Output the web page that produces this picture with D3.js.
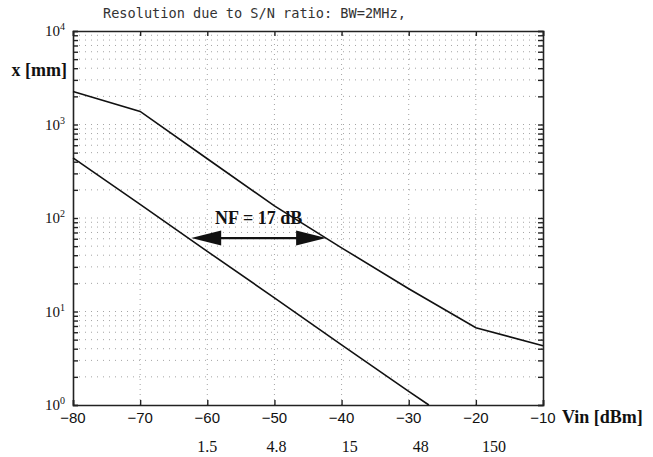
<!DOCTYPE html>
<html><head><meta charset="utf-8">
<script src="https://cdn.jsdelivr.net/npm/d3@7/dist/d3.min.js"></script>
<style>body{margin:0;background:#fff}svg{display:block}</style>
</head><body>
<script>
// ---- data ----
const vinTicks = [-80, -70, -60, -50, -40, -30, -20, -10];
const decades = [1, 10, 100, 1000, 10000];
const decadeExp = ["0", "1", "2", "3", "4"];
const upperVin = [-80, -70, -60, -50, -40, -30, -20, -10];
const upperX   = [2250, 1380, 430, 135, 48, 17.5, 6.7, 4.3];
const lowerVin = [-80, -70, -60, -50, -40, -30, -27];
const lowerX   = [440, 140, 44, 14, 4.4, 1.4, 1.0];
const mvLabels = ["1.5", "4.8", "15", "48", "150"];
const mvAt     = [-60, -49.7, -38.8, -28.2, -17.3];
const nfArrow  = { from: -62.4, to: -42.3, level: 61, label: "NF = 17 dB" };
const titleText = "Resolution due to S/N ratio: BW=2MHz,";

const W = 653, H = 457;
const svg = d3.select("body").append("svg").attr("width", W).attr("height", H);
const x = d3.scaleLinear().domain([-80, -10]).range([73, 543]);
const y = d3.scaleLog().domain([1, 10000]).range([405, 31]);

// minor log values
const logTicks = [];
for (let e = 0; e < 4; e++) for (let m = 1; m <= 9; m++) logTicks.push(m * Math.pow(10, e));
logTicks.push(10000);

// grid
const grid = svg.append("g").attr("stroke", "#9a9a9a").attr("stroke-width", 0.9)
  .attr("stroke-dasharray", "1,5").attr("fill", "none");
grid.selectAll(".hg").data(logTicks.filter(v => v > 1 && v < 10000)).join("line")
  .attr("x1", x(-80)).attr("x2", x(-10)).attr("y1", d => y(d)).attr("y2", d => y(d));
grid.selectAll(".vg").data(vinTicks.slice(1, -1)).join("line")
  .attr("x1", d => x(d)).attr("x2", d => x(d)).attr("y1", y(1)).attr("y2", y(10000))
  .attr("stroke-dasharray", "1,4");

// axes (inward ticks)
const axL = svg.append("g").attr("transform", `translate(${x(-80)},0)`)
  .call(d3.axisRight(y).tickValues(logTicks).tickSize(5).tickFormat(""));
const axR = svg.append("g").attr("transform", `translate(${x(-10)},0)`)
  .call(d3.axisLeft(y).tickValues(logTicks).tickSize(5).tickFormat(""));
const axB = svg.append("g").attr("transform", `translate(0,${y(1)})`)
  .call(d3.axisTop(x).tickValues(vinTicks).tickSize(5).tickFormat(""));
const axT = svg.append("g").attr("transform", `translate(0,${y(10000)})`)
  .call(d3.axisBottom(x).tickValues(vinTicks).tickSize(5).tickFormat(""));
[axL, axR, axB, axT].forEach(a => {
  a.selectAll("path").attr("stroke", "#222").attr("stroke-width", 1.6);
  a.selectAll("line").attr("stroke", "#222").attr("stroke-width", 1.4);
});

// y decade labels
const yl = svg.append("g").attr("font-family", "Liberation Serif, serif").attr("fill", "#111");
decades.forEach((v, i) => {
  const t = yl.append("text").attr("x", 65).attr("y", y(v) + 5).attr("text-anchor", "end")
    .attr("font-size", 15);
  t.append("tspan").text("10");
  t.append("tspan").attr("dy", -6).attr("font-size", 10).text(decadeExp[i]);
});

// x tick labels
svg.append("g").selectAll("text").data(vinTicks).join("text")
  .attr("x", d => x(d)).attr("y", 423).attr("text-anchor", "middle")
  .attr("font-family", "Liberation Sans, sans-serif").attr("font-size", 15).attr("fill", "#111")
  .text(d => "\u2212" + Math.abs(d));

// second row labels
svg.append("g").selectAll("text").data(mvLabels).join("text")
  .attr("x", (d, i) => x(mvAt[i])).attr("y", 452).attr("text-anchor", "middle")
  .attr("font-family", "Liberation Serif, serif").attr("font-size", 16).attr("fill", "#111")
  .text(d => d);

// axis titles
svg.append("text").attr("x", 562).attr("y", 423)
  .attr("font-family", "Liberation Serif, serif").attr("font-weight", "bold").attr("font-size", 18)
  .attr("fill", "#111").text("Vin [dBm]");
svg.append("text").attr("x", 67).attr("y", 76).attr("text-anchor", "end")
  .attr("font-family", "Liberation Serif, serif").attr("font-weight", "bold").attr("font-size", 18)
  .attr("fill", "#111").text("x [mm]");

// title
svg.append("text").attr("x", 103).attr("y", 18)
  .attr("font-family", "DejaVu Sans Mono, monospace").attr("font-size", 13.6).attr("fill", "#333")
  .text(titleText);

// curves
const line = d3.line().x(d => x(d[0])).y(d => y(d[1]));
svg.append("path").datum(upperVin.map((v, i) => [v, upperX[i]]))
  .attr("d", line).attr("fill", "none").attr("stroke", "#111").attr("stroke-width", 1.6);
svg.append("path").datum(lowerVin.map((v, i) => [v, lowerX[i]]))
  .attr("d", line).attr("fill", "none").attr("stroke", "#111").attr("stroke-width", 1.6);

// NF arrow
const ay = y(nfArrow.level), ax1 = x(nfArrow.from), ax2 = x(nfArrow.to);
const hl = 30, hh = 7.5;
svg.append("line").attr("x1", ax1 + hl - 2).attr("x2", ax2 - hl + 2).attr("y1", ay).attr("y2", ay)
  .attr("stroke", "#111").attr("stroke-width", 2.2);
svg.append("path").attr("d", `M${ax1},${ay} L${ax1 + hl},${ay - hh} L${ax1 + hl},${ay + hh} Z`).attr("fill", "#111");
svg.append("path").attr("d", `M${ax2},${ay} L${ax2 - hl},${ay - hh} L${ax2 - hl},${ay + hh} Z`).attr("fill", "#111");
svg.append("text").attr("x", (ax1 + ax2) / 2).attr("y", ay - 14).attr("text-anchor", "middle")
  .attr("font-family", "Liberation Serif, serif").attr("font-weight", "bold").attr("font-size", 18)
  .attr("fill", "#111").text(nfArrow.label);
</script>
</body></html>
